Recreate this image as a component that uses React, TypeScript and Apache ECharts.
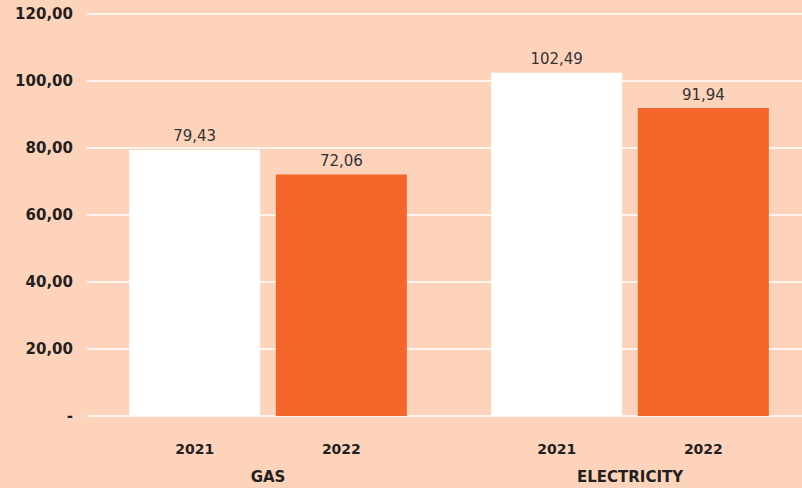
import React, { useEffect, useRef } from "react";
import * as echarts from "echarts";

const categories = ["GAS", "ELECTRICITY"];
const years = ["2021", "2022"];
const values2021 = [79.43, 102.49];
const values2022 = [72.06, 91.94];
const yTicks = { min: 0, max: 120, interval: 20 };

const fmt = (v: number) => v.toFixed(2).replace(".", ",");

export default function App() {
  const ref = useRef<HTMLDivElement>(null);
  useEffect(() => {
    const chart = echarts.init(ref.current!, null, { renderer: "svg" });
    const font = "DejaVu Sans";
    const yearLabelSeries = (year: string, stack: string) => ({
      type: "bar",
      name: year + "-label",
      stack,
      data: categories.map(() => 0),
      barWidth: 131,
      barGap: "12%",
      itemStyle: { color: "transparent" },
      label: {
        show: true,
        position: "bottom",
        distance: 26,
        formatter: () => year,
        fontFamily: font,
        fontWeight: "bold",
        fontSize: 14,
        color: "#231F20",
      },
      silent: true,
    });
    const valueSeries = (year: string, stack: string, data: number[], color: string) => ({
      type: "bar",
      name: year,
      stack,
      data,
      barWidth: 131,
      barGap: "12%",
      itemStyle: { color },
      label: {
        show: true,
        position: "top",
        distance: 6,
        formatter: (p: any) => fmt(p.value),
        fontFamily: font,
        fontSize: 15,
        color: "#333333",
      },
    });
    chart.setOption({
      animation: false,
      backgroundColor: "#FDD4BB",
      grid: { left: 87, right: 0, top: 14, bottom: 72, containLabel: false },
      xAxis: {
        type: "category",
        data: categories,
        axisLine: { show: false },
        axisTick: { show: false },
        axisLabel: {
          margin: 53,
          fontFamily: font,
          fontWeight: "bold",
          fontSize: 15,
          color: "#231F20",
        },
      },
      yAxis: {
        type: "value",
        min: yTicks.min,
        max: yTicks.max,
        interval: yTicks.interval,
        axisLine: { show: false },
        axisTick: { show: false },
        splitLine: { lineStyle: { color: "#FFFFFF", width: 1.5 } },
        axisLabel: {
          margin: 14,
          fontFamily: font,
          fontWeight: "bold",
          fontSize: 15,
          color: "#231F20",
          formatter: (v: number) => (v === 0 ? "-" : fmt(v)),
        },
      },
      series: [
        yearLabelSeries(years[0], "a"),
        valueSeries(years[0], "a", values2021, "#FFFFFF"),
        yearLabelSeries(years[1], "b"),
        valueSeries(years[1], "b", values2022, "#F4662A"),
      ],
    });
    return () => chart.dispose();
  }, []);
  return (
    <div
      style={{
        position: "fixed",
        left: 0,
        top: 0,
        width: 802,
        height: 488,
        overflow: "hidden",
        background: "#FDD4BB",
      }}
    >
      <div ref={ref} style={{ width: 811, height: 488 }} />
    </div>
  );
}
